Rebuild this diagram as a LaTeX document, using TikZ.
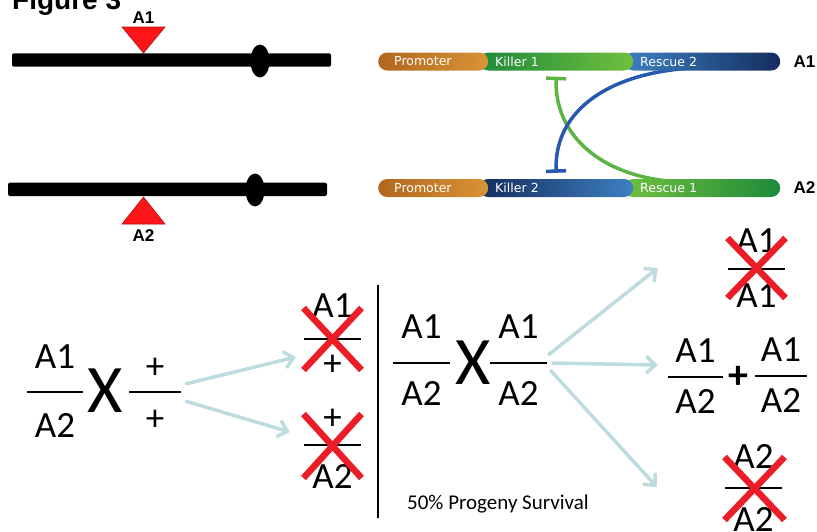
\documentclass[tikz,border=0pt]{standalone}
\usepackage{fontspec}
\setmainfont{Carlito}
\newfontfamily\genefont{DejaVu Sans}
\newfontfamily\labfont{Liberation Sans}
\usepackage{tikz}
\usetikzlibrary{arrows.meta,backgrounds}
\definecolor{promleft}{RGB}{178,102,30}
\definecolor{promright}{RGB}{216,148,54}
\definecolor{grndark}{RGB}{30,138,58}
\definecolor{grnlight}{RGB}{112,192,62}
\definecolor{blulight}{RGB}{62,128,194}
\definecolor{bludark}{RGB}{20,45,94}
\definecolor{inhgreen}{RGB}{92,180,68}
\definecolor{inhblue}{RGB}{38,88,176}
\definecolor{xred}{RGB}{235,30,40}
\definecolor{markred}{RGB}{255,22,26}
\definecolor{flowgray}{RGB}{190,220,224}

\tikzset{
  allele/.style={font=\fontsize{37}{42}\selectfont,inner sep=0pt},
  genoline/.style={fill=black,inner sep=0pt,minimum height=2pt},
  bigx/.style={font=\fontsize{68}{72}\selectfont,inner sep=0pt},
  crossout/.style={draw=xred,line width=6.5pt},
  flow/.style={draw=flowgray,line width=3.5pt,-{Straight Barb[length=9pt,width=17pt]}},
  gene/.style={anchor=west,rounded corners=9pt,minimum height=18pt,inner ysep=0pt,inner xsep=16pt,
    align=left,text=white,font=\genefont\fontsize{12.5}{14}\selectfont},
  inhib/.style={line width=3.5pt,-{Bar[width=20pt]}},
  tag/.style={font=\labfont\bfseries\fontsize{17}{20}\selectfont,inner sep=0pt},
  allelemark/.style={fill=markred,draw=markred!70!black,line width=0.6pt},
}

% genotype: name, x, y, half rule width, top, bottom, raise of top, drop of bottom
\newcommand{\geno}[8]{%
  \node[genoline,minimum width=2*#4] (#1) at (#2,#3) {};
  \node[allele,anchor=base] (#1t) at (#2,#3-#7) {#5};
  \node[allele,anchor=base] (#1b) at (#2,#3+#8) {#6};
}

\begin{document}
\begin{tikzpicture}[x=1pt,y=-1pt]
\useasboundingbox (0,0) rectangle (817,531);
\node[font=\labfont\bfseries\fontsize{28}{30}\selectfont,inner sep=0pt,anchor=base west] (fig) at (12,9) {Figure 3};

% chromosomes
\fill[rounded corners=2pt] (12,53.3) rectangle (331,66.7);
\fill (260,61) ellipse [x radius=9.5,y radius=16.5];
\filldraw[allelemark] (122,27) -- (165,27) -- (143.5,53) -- cycle;
\node[tag] (m1) at (143.5,18) {A1};
\fill[rounded corners=2pt] (8,182.7) rectangle (327,196);
\fill (255,190) ellipse [x radius=9.5,y radius=16.5];
\filldraw[allelemark] (122,224) -- (165,224) -- (143.5,197) -- cycle;
\node[tag] (m2) at (143.5,236) {A2};

% constructs
\node[gene,text width=124pt,left color=blulight,right color=bludark] (r2) at (624,61.5) {Rescue 2};
\node[gene,text width=122pt,left color=grndark,right color=grnlight] (k1) at (479,61.5) {Killer 1};
\node[gene,text width=78pt,left color=promleft,right color=promright] (p1) at (378,61.5) {Promoter};
\node[gene,text width=124pt,left color=grnlight,right color=grndark] (r1) at (624,188) {Rescue 1};
\node[gene,text width=122pt,left color=bludark,right color=blulight] (k2) at (479,188) {Killer 2};
\node[gene,text width=78pt,left color=promleft,right color=promright] (p2) at (378,188) {Promoter};
\node[tag,anchor=west] (t1) at ([shift={(13,0)}]r2.east) {A1};
\node[tag,anchor=west] (t2) at ([shift={(13,0)}]r1.east) {A2};
\begin{pgfonlayer}{background}
\draw[inhib,inhgreen] ([shift={(-77,-6)}]r1.east) .. controls (610,186) and (554,140) .. ([shift={(0,6)}]k1.south);
\draw[inhib,inhblue] ([shift={(-77,6)}]r2.east) .. controls (610,70) and (554,110) .. ([shift={(0,-6)}]k2.north);
\end{pgfonlayer}

% crosses
\geno{het}{55}{392}{28}{A1}{A2}{24}{45}
\node[bigx] (x1) at (105.5,390.5) {X};
\geno{wt}{155}{392}{26}{+}{+}{14}{38}
\geno{dead1}{332.5}{339}{28.5}{A1}{+}{22}{36}
\geno{dead2}{332.5}{445}{28.5}{+}{A2}{16}{43}
\draw[crossout] ([shift={(-29,-31)}]dead1.center) -- ([shift={(29,31)}]dead1.center);
\draw[crossout] ([shift={(29,-31)}]dead1.center) -- ([shift={(-29,31)}]dead1.center);
\draw[crossout] ([shift={(-29,-31)}]dead2.center) -- ([shift={(29,33)}]dead2.center);
\draw[crossout] ([shift={(29,-31)}]dead2.center) -- ([shift={(-29,33)}]dead2.center);
\draw[flow] ([shift={(4,-8)}]wt.east) -- ([shift={(-8,18)}]dead1.west);
\draw[flow] ([shift={(4,9)}]wt.east) -- ([shift={(-14,-13)}]dead2.west);

\draw[line width=2pt] (378,285) -- (378,518);

\geno{hetA}{421.5}{363}{28.5}{A1}{A2}{25}{42}
\node[bigx] (x2) at (473.5,362.5) {X};
\geno{hetB}{518.5}{363}{28.5}{A1}{A2}{25}{42}
\geno{homo1}{756.5}{269}{28.5}{A1}{A1}{17}{38}
\geno{kid1}{695.5}{377}{27.5}{A1}{A2}{15}{36}
\node[font=\bfseries\fontsize{40}{44}\selectfont,inner sep=0pt] (plus) at (738,377) {+};
\geno{kid2}{781}{376}{26}{A1}{A2}{15}{36}
\geno{homo2}{753.5}{488}{28.5}{A2}{A2}{20}{43}
\draw[crossout] ([shift={(-29,-31)}]homo1.center) -- ([shift={(29,29)}]homo1.center);
\draw[crossout] ([shift={(29,-31)}]homo1.center) -- ([shift={(-29,29)}]homo1.center);
\draw[crossout] ([shift={(-29,-31)}]homo2.center) -- ([shift={(31,32)}]homo2.center);
\draw[crossout] ([shift={(31,-31)}]homo2.center) -- ([shift={(-29,32)}]homo2.center);
\draw[flow] ([shift={(1,-8)}]hetB.east) -- ([shift={(-70,-1)}]homo1.west);
\draw[flow] ([shift={(5,0)}]hetB.east) -- ([shift={(-10,-12)}]kid1.west);
\draw[flow] ([shift={(3,7)}]hetB.east) -- ([shift={(-68,-1)}]homo2.west);
\node[font=\fontsize{21}{24}\selectfont,inner sep=0pt,anchor=base west] (surv) at (407,509) {50\% Progeny Survival};
\end{tikzpicture}
\end{document}
